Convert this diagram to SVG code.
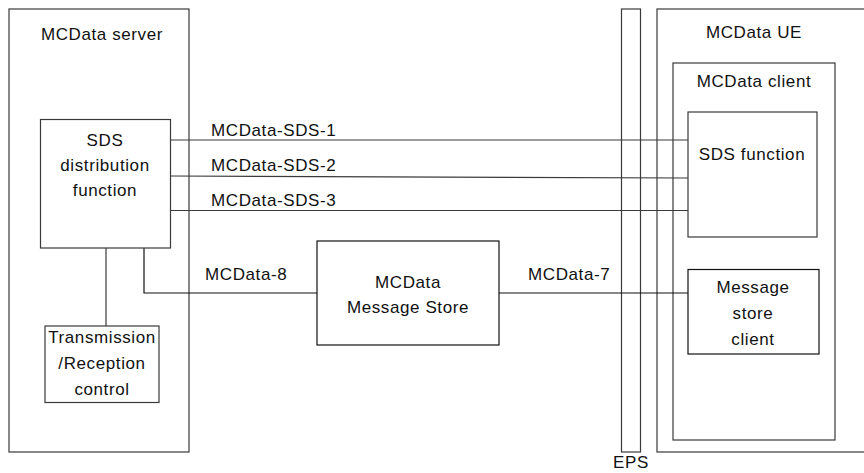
<svg xmlns="http://www.w3.org/2000/svg" width="864" height="473" viewBox="0 0 864 473">
<style>
.b{fill:none;stroke:#3a3a3a;stroke-width:1.2}
.k{fill:none;stroke:#111;stroke-width:1.2}
.l{fill:none;stroke:#3a3a3a;stroke-width:1.2}
text{font-family:"Liberation Sans",Arial,sans-serif;font-size:17px;fill:#111;letter-spacing:0.6px}
.m{text-anchor:middle}
</style>
<rect width="864" height="473" fill="#fff"/>
<g id="server">
<rect class="b" x="9" y="9" width="180" height="443"/>
<text class="m" x="102" y="40">MCData server</text>
</g>
<g id="eps">
<rect class="b" x="621.5" y="9" width="19" height="443"/>
<text class="m" x="631" y="468">EPS</text>
</g>
<g id="ue">
<rect class="b" x="657" y="9" width="220" height="443"/>
<text class="m" x="754" y="38">MCData UE</text>
</g>
<g id="client">
<rect class="b" x="673" y="63" width="162" height="377"/>
<text class="m" x="754" y="87">MCData client</text>
</g>
<g id="connectors">
<line class="l" x1="170.5" y1="140" x2="688" y2="140"/>
<line class="l" x1="170.5" y1="176" x2="688" y2="178"/>
<line class="l" x1="170.5" y1="210.5" x2="688" y2="210.5"/>
<line class="l" x1="106" y1="248" x2="106" y2="326"/>
<polyline class="k" points="144,248 144,293 317,293"/>
<line class="k" x1="499" y1="293" x2="688" y2="293"/>
<text x="211" y="136">MCData-SDS-1</text>
<text x="211" y="171">MCData-SDS-2</text>
<text x="211" y="206">MCData-SDS-3</text>
<text x="205" y="280">MCData-8</text>
<text x="528" y="280">MCData-7</text>
</g>
<g id="sds-dist">
<rect class="b" x="40.5" y="119.5" width="130" height="128.5"/>
<text class="m" x="105" y="146">SDS</text>
<text class="m" x="105" y="171">distribution</text>
<text class="m" x="105" y="196">function</text>
</g>
<g id="trx">
<rect class="b" x="45" y="326" width="114" height="76.5"/>
<text class="m" x="102" y="343">Transmission</text>
<text class="m" x="102" y="369">/Reception</text>
<text class="m" x="102" y="395">control</text>
</g>
<g id="store">
<rect class="k" x="317" y="241" width="182" height="104"/>
<text class="m" x="408" y="288">MCData</text>
<text class="m" x="408" y="313">Message Store</text>
</g>
<g id="sds-func">
<rect class="b" x="688" y="112" width="129" height="125"/>
<text class="m" x="752" y="160">SDS function</text>
</g>
<g id="msc">
<rect class="k" x="688" y="269.5" width="131" height="84.5"/>
<text class="m" x="753" y="293">Message</text>
<text class="m" x="753" y="319">store</text>
<text class="m" x="753" y="345">client</text>
</g>
</svg>
